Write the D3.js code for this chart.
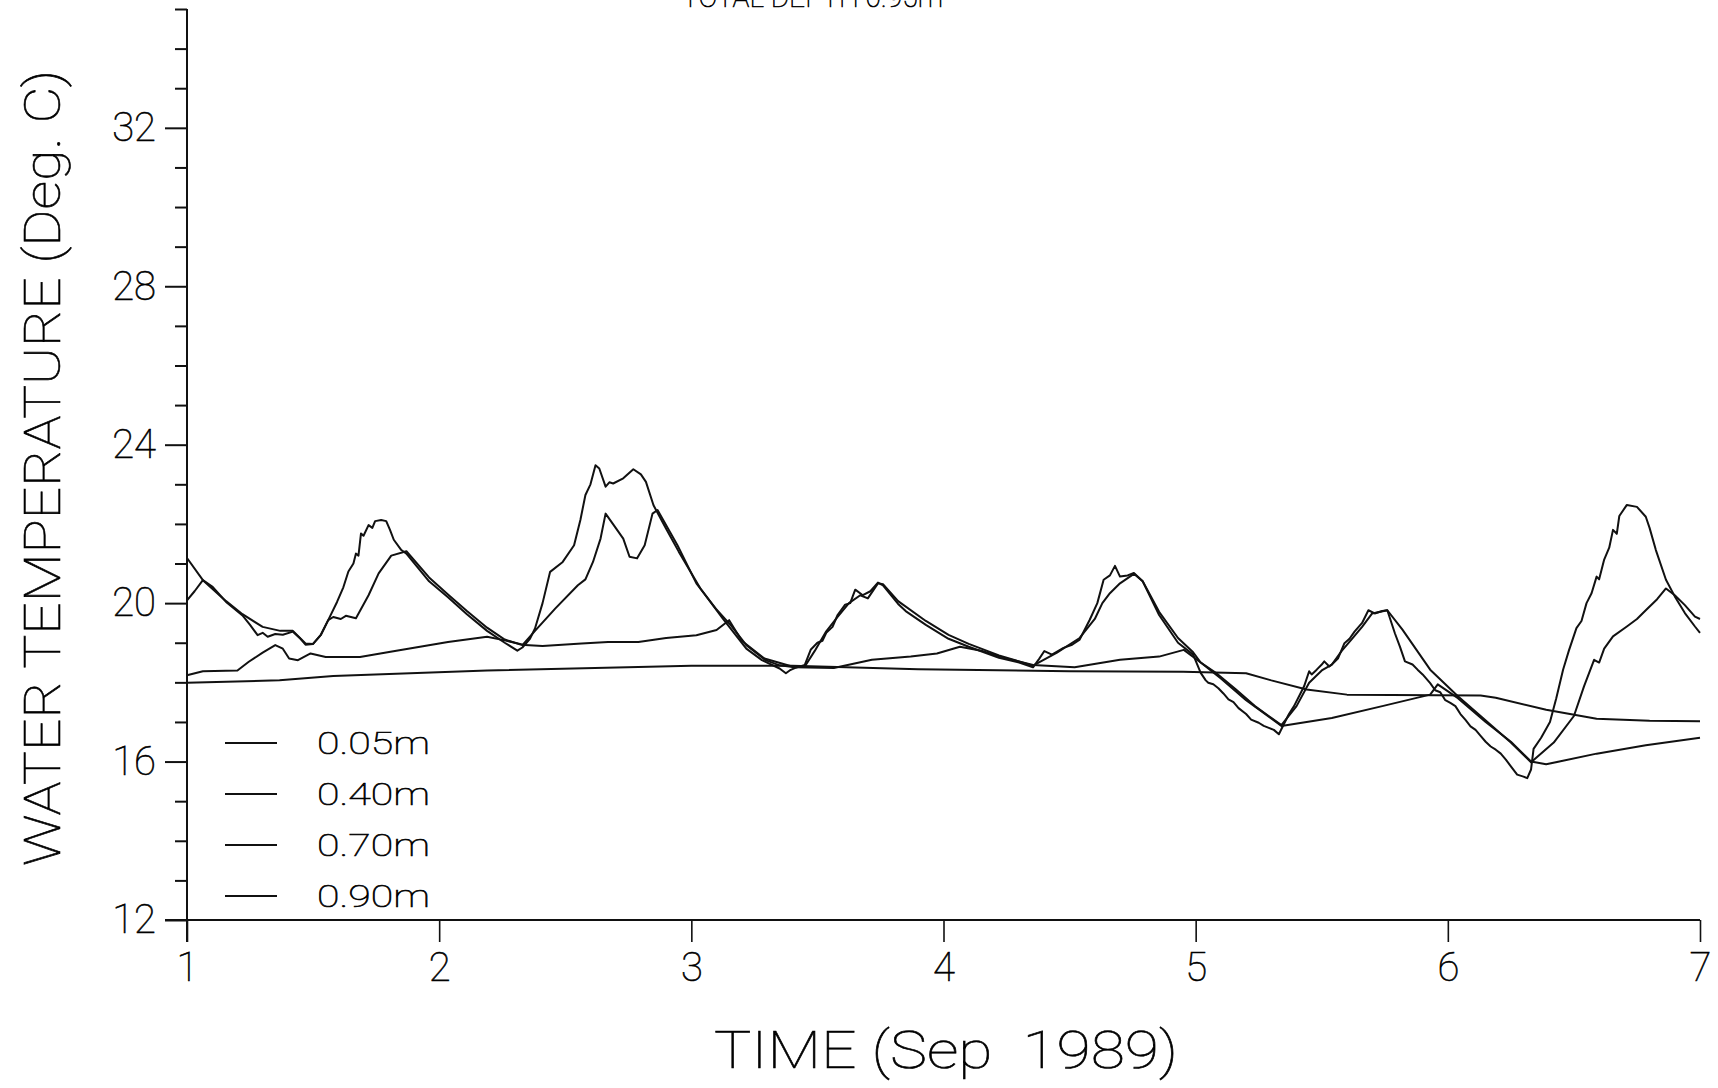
<!DOCTYPE html>
<html>
<head>
<meta charset="utf-8">
<script src="https://cdn.jsdelivr.net/npm/d3@7"></script>
<style>
  body { margin: 0; background: #fff; }
  svg text { font-family: "Roboto", "Liberation Sans", sans-serif; font-weight: 100; fill: #000; stroke: #000; stroke-width: 0.6px; }
</style>
</head>
<body>
<div id="chart"></div>
<script>
// tick values
var xTicks = [1, 2, 3, 4, 5, 6, 7];
var yTicks = d3.range(12, 36);
var yLabelled = [12, 16, 20, 24, 28, 32];
var legendLabels = ["0.05m", "0.40m", "0.70m", "0.90m"];

// water temperature series, [day of Sep 1989, deg C]
var s005 = [[1.0,20.07],[1.03,20.3],[1.063,20.58],[1.1,20.42],[1.155,20.03],[1.22,19.69],[1.25,19.45],[1.28,19.19],[1.3,19.25],[1.32,19.15],[1.35,19.22],[1.38,19.2],[1.42,19.28],[1.45,19.1],[1.47,18.95],[1.5,18.97],[1.53,19.19],[1.56,19.57],[1.595,20.03],[1.62,20.4],[1.64,20.8],[1.66,21.0],[1.67,21.25],[1.68,21.2],[1.69,21.76],[1.7,21.7],[1.72,21.97],[1.735,21.9],[1.746,22.07],[1.77,22.1],[1.79,22.07],[1.805,21.85],[1.82,21.6],[1.85,21.34],[1.87,21.25],[1.96,20.55],[2.035,20.15],[2.11,19.72],[2.19,19.3],[2.26,19.0],[2.31,18.8],[2.33,18.88],[2.36,19.1],[2.38,19.36],[2.41,20.0],[2.44,20.79],[2.49,21.04],[2.535,21.46],[2.56,22.1],[2.58,22.73],[2.6,23.0],[2.62,23.48],[2.635,23.4],[2.66,22.94],[2.675,23.05],[2.69,23.02],[2.73,23.15],[2.77,23.38],[2.8,23.25],[2.82,23.06],[2.85,22.47],[2.9,21.88],[2.95,21.3],[3.036,20.37],[3.125,19.61],[3.218,18.85],[3.28,18.56],[3.35,18.35],[3.375,18.23],[3.39,18.3],[3.41,18.36],[3.45,18.44],[3.474,18.83],[3.5,19.0],[3.52,19.05],[3.535,19.25],[3.56,19.4],[3.58,19.7],[3.61,19.96],[3.63,20.0],[3.65,20.34],[3.68,20.2],[3.71,20.3],[3.74,20.52],[3.76,20.45],[3.82,19.98],[3.85,19.8],[3.93,19.45],[4.02,19.1],[4.1,18.9],[4.22,18.62],[4.3,18.5],[4.355,18.38],[4.38,18.6],[4.4,18.79],[4.43,18.7],[4.476,18.87],[4.51,18.95],[4.54,19.08],[4.58,19.58],[4.61,20.0],[4.635,20.59],[4.66,20.7],[4.68,20.94],[4.7,20.67],[4.73,20.7],[4.755,20.76],[4.79,20.55],[4.855,19.7],[4.93,19.0],[4.99,18.7],[5.02,18.24],[5.04,18.05],[5.05,17.99],[5.07,17.95],[5.09,17.85],[5.11,17.72],[5.13,17.57],[5.15,17.5],[5.17,17.35],[5.2,17.2],[5.22,17.06],[5.25,16.98],[5.27,16.9],[5.29,16.85],[5.31,16.8],[5.33,16.69],[5.35,16.95],[5.37,17.2],[5.39,17.4],[5.41,17.65],[5.43,17.9],[5.45,18.28],[5.46,18.2],[5.48,18.32],[5.5,18.45],[5.51,18.53],[5.53,18.4],[5.54,18.45],[5.565,18.61],[5.59,18.99],[5.61,19.1],[5.63,19.28],[5.66,19.5],[5.685,19.82],[5.71,19.74],[5.74,19.8],[5.76,19.82],[5.79,19.24],[5.81,18.9],[5.83,18.53],[5.86,18.45],[5.88,18.32],[5.9,18.2],[5.93,17.98],[5.95,17.8],[5.97,17.75],[5.99,17.55],[6.01,17.48],[6.03,17.4],[6.05,17.2],[6.07,17.05],[6.09,16.89],[6.11,16.8],[6.13,16.65],[6.15,16.5],[6.17,16.38],[6.19,16.3],[6.21,16.2],[6.23,16.05],[6.25,15.88],[6.275,15.67],[6.3,15.62],[6.315,15.58],[6.33,15.8],[6.34,16.32],[6.37,16.6],[6.405,17.0],[6.43,17.6],[6.457,18.32],[6.48,18.8],[6.51,19.37],[6.53,19.55],[6.55,20.0],[6.57,20.25],[6.59,20.67],[6.6,20.6],[6.62,21.1],[6.64,21.4],[6.655,21.85],[6.67,21.75],[6.68,22.2],[6.71,22.48],[6.75,22.43],[6.785,22.18],[6.8,21.9],[6.825,21.34],[6.865,20.59],[6.9,20.17],[6.94,19.75],[6.98,19.41],[7.0,19.25]];

var s040 = [[1.0,21.14],[1.063,20.58],[1.155,20.05],[1.22,19.72],[1.3,19.4],[1.37,19.3],[1.42,19.3],[1.47,18.98],[1.5,18.97],[1.53,19.19],[1.56,19.57],[1.58,19.65],[1.61,19.6],[1.63,19.68],[1.67,19.62],[1.72,20.2],[1.76,20.75],[1.81,21.2],[1.87,21.31],[1.96,20.65],[2.035,20.22],[2.11,19.8],[2.19,19.38],[2.26,19.08],[2.33,18.94],[2.38,19.3],[2.46,19.86],[2.55,20.45],[2.58,20.6],[2.61,21.04],[2.64,21.63],[2.66,22.26],[2.7,21.9],[2.73,21.63],[2.755,21.17],[2.785,21.13],[2.815,21.46],[2.846,22.26],[2.866,22.35],[2.945,21.46],[3.02,20.5],[3.097,19.86],[3.157,19.44],[3.218,18.94],[3.294,18.56],[3.35,18.43],[3.41,18.38],[3.45,18.4],[3.49,18.8],[3.535,19.29],[3.58,19.65],[3.625,20.0],[3.67,20.2],[3.7,20.12],[3.74,20.5],[3.76,20.48],[3.82,20.05],[3.93,19.55],[4.02,19.2],[4.1,18.97],[4.22,18.68],[4.355,18.42],[4.45,18.75],[4.54,19.12],[4.6,19.6],[4.63,20.0],[4.66,20.25],[4.7,20.5],[4.755,20.74],[4.79,20.55],[4.855,19.78],[4.93,19.12],[4.99,18.76],[5.02,18.5],[5.08,18.24],[5.16,17.82],[5.235,17.4],[5.34,16.92],[5.4,17.4],[5.45,17.99],[5.5,18.3],[5.54,18.45],[5.58,18.8],[5.62,19.1],[5.66,19.4],[5.70,19.74],[5.76,19.82],[5.82,19.33],[5.93,18.32],[6.04,17.65],[6.13,17.15],[6.25,16.48],[6.33,15.98],[6.42,16.48],[6.5,17.15],[6.54,17.9],[6.58,18.57],[6.6,18.5],[6.62,18.85],[6.655,19.16],[6.71,19.41],[6.75,19.6],[6.785,19.82],[6.83,20.1],[6.865,20.37],[6.9,20.2],[6.94,19.95],[6.98,19.66],[7.0,19.6]];

var s070 = [[1.0,18.18],[1.063,18.28],[1.2,18.3],[1.245,18.52],[1.3,18.75],[1.35,18.94],[1.38,18.85],[1.405,18.6],[1.44,18.56],[1.49,18.73],[1.55,18.64],[1.686,18.64],[1.807,18.77],[2.035,19.02],[2.19,19.15],[2.26,19.06],[2.34,18.94],[2.41,18.92],[2.565,18.98],[2.67,19.02],[2.79,19.02],[2.9,19.12],[3.02,19.19],[3.1,19.32],[3.15,19.57],[3.2,19.05],[3.29,18.6],[3.41,18.38],[3.565,18.36],[3.716,18.57],[3.87,18.65],[3.974,18.73],[4.065,18.9],[4.15,18.8],[4.25,18.6],[4.355,18.44],[4.52,18.38],[4.70,18.57],[4.855,18.65],[4.953,18.82],[5.02,18.5],[5.1,18.1],[5.2,17.55],[5.34,16.9],[5.54,17.1],[5.74,17.4],[5.93,17.69],[5.96,17.95],[6.04,17.6],[6.15,17.0],[6.25,16.5],[6.33,16.0],[6.39,15.93],[6.59,16.2],[6.785,16.41],[7.0,16.6]];

var s090 = [[1.0,17.99],[1.367,18.05],[1.58,18.16],[2.19,18.3],[2.79,18.39],[3.0,18.42],[3.4,18.42],[3.9,18.33],[4.5,18.28],[4.95,18.27],[5.2,18.23],[5.3,18.05],[5.44,17.82],[5.6,17.69],[6.13,17.67],[6.19,17.61],[6.39,17.31],[6.59,17.08],[6.8,17.03],[7.0,17.02]];

var series = [s005, s040, s070, s090];

var W = 1718, H = 1088;
var svg = d3.select("#chart").append("svg")
    .attr("width", W)
    .attr("height", H);

var x = d3.scaleLinear().domain([1, 7]).range([187, 1700]);
var y = d3.scaleLinear().domain([12, 35]).range([920, 9]);

// y axis
var yAxis = svg.append("g")
    .attr("transform", "translate(" + x(1) + ",0)")
    .call(d3.axisLeft(y)
        .tickValues(yTicks)
        .tickSizeOuter(0)
        .tickPadding(10)
        .tickFormat(function (d) { return yLabelled.indexOf(d) >= 0 ? d : ""; }));
yAxis.select(".domain").remove();
yAxis.selectAll(".tick line")
    .attr("x2", function (d) { return yLabelled.indexOf(d) >= 0 ? -22 : -12; })
    .attr("stroke", "#111")
    .attr("stroke-width", 2);
yAxis.selectAll(".tick text")
    .attr("x", -31)
    .style("font-size", "40px");

svg.append("line")
    .attr("x1", x(1)).attr("x2", x(1))
    .attr("y1", 9).attr("y2", 942)
    .attr("stroke", "#111").attr("stroke-width", 2);

// x axis
var xAxis = svg.append("g")
    .attr("transform", "translate(0," + y(12) + ")")
    .call(d3.axisBottom(x)
        .tickValues(xTicks)
        .tickSize(22)
        .tickSizeOuter(0)
        .tickPadding(10)
        .tickFormat(d3.format("d")));
xAxis.select(".domain").remove();
xAxis.selectAll(".tick line").attr("stroke", "#111").attr("stroke-width", 1.6);
xAxis.selectAll(".tick text").style("font-size", "40px").attr("dy", "0.72em").attr("y", 32);

svg.append("line")
    .attr("x1", 165).attr("x2", x(7))
    .attr("y1", y(12)).attr("y2", y(12))
    .attr("stroke", "#111").attr("stroke-width", 2.2);

// series
var line = d3.line()
    .x(function (d) { return x(d[0]); })
    .y(function (d) { return y(d[1]); });

svg.append("g")
    .selectAll("path")
    .data(series)
    .enter()
    .append("path")
    .attr("d", line)
    .attr("fill", "none")
    .attr("stroke", "#111")
    .attr("stroke-width", 2)
    .attr("stroke-linejoin", "round");

// legend
var legend = svg.append("g")
    .selectAll("g")
    .data(legendLabels)
    .enter()
    .append("g")
    .attr("transform", function (d, i) { return "translate(225," + (743 + i * 51) + ")"; });
legend.append("line")
    .attr("x1", 0).attr("x2", 52)
    .attr("stroke", "#111").attr("stroke-width", 2);
legend.append("text")
    .attr("x", 92)
    .attr("y", 11)
    .attr("textLength", 113)
    .attr("lengthAdjust", "spacingAndGlyphs")
    .style("font-size", "31px")
    .text(function (d) { return d; });

// titles (the top one runs off the page as in the scan)
svg.append("text")
    .attr("x", 682).attr("y", 7)
    .attr("textLength", 261)
    .attr("lengthAdjust", "spacingAndGlyphs")
    .style("font-size", "30px")
    .text("TOTAL DEPTH 0.95m");

svg.append("text")
    .attr("x", 714).attr("y", 1068)
    .attr("textLength", 464)
    .attr("lengthAdjust", "spacingAndGlyphs")
    .style("font-size", "52px")
    .style("white-space", "pre")
    .text("TIME (Sep  1989)");

svg.append("text")
    .attr("transform", "translate(60,866) rotate(-90)")
    .attr("x", 0).attr("y", 0)
    .attr("textLength", 796)
    .attr("lengthAdjust", "spacingAndGlyphs")
    .style("font-size", "50px")
    .text("WATER TEMPERATURE (Deg. C)");
</script>
</body>
</html>
